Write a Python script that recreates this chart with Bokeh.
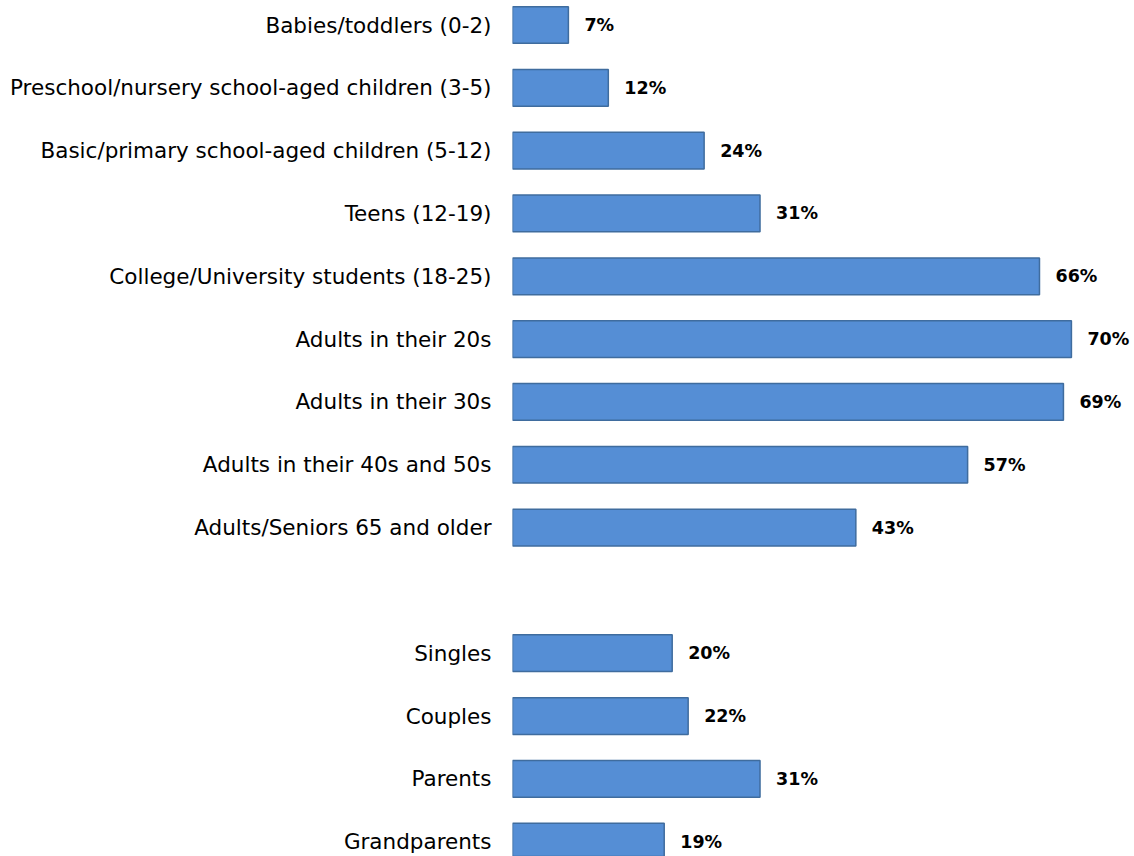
from bokeh.plotting import figure
from bokeh.models import Range1d, FixedTicker, ColumnDataSource
from bokeh.core.properties import value
from bokeh.embed import file_html
from bokeh.resources import INLINE

age_groups = [
    "Babies/toddlers (0-2)",
    "Preschool/nursery school-aged children (3-5)",
    "Basic/primary school-aged children (5-12)",
    "Teens (12-19)",
    "College/University students (18-25)",
    "Adults in their 20s",
    "Adults in their 30s",
    "Adults in their 40s and 50s",
    "Adults/Seniors 65 and older",
]
age_values = [7, 12, 24, 31, 66, 70, 69, 57, 43]

family_groups = ["Singles", "Couples", "Parents", "Grandparents"]
family_values = [20, 22, 31, 19]

labels = age_groups + family_groups
values = age_values + family_values
# one empty slot between the two groups
positions = list(range(len(age_groups))) + [len(age_groups) + 1 + k for k in range(len(family_groups))]
texts = [f"{v}%" for v in values]

src = ColumnDataSource(dict(y=positions, v=values, t=texts))

FONT = "DejaVu Sans"

p = figure(
    width=1134, height=856,
    x_range=Range1d(0, 77.9),
    y_range=Range1d(13.236, -0.39),
    output_backend="svg", toolbar_location=None,
    min_border_left=512, min_border_right=0, min_border_top=0, min_border_bottom=0,
)
p.hbar(y="y", right="v", left=0, height=0.584, source=src,
       fill_color="#558ED5", line_color="#3F6C9E", line_width=1.5)
p.text(x="v", y="y", text="t", source=src, x_offset=16,
       text_baseline="middle", text_align="left",
       text_font=value(FONT), text_font_style="bold",
       text_font_size="17.5px", text_color="#000000")

p.xaxis.visible = False
p.yaxis.ticker = FixedTicker(ticks=positions)
p.yaxis.major_label_overrides = {pos: lab for pos, lab in zip(positions, labels)}
p.yaxis.major_label_text_font = FONT
p.yaxis.major_label_text_font_size = "21.5px"
p.yaxis.major_label_text_color = "#000000"
p.yaxis.major_label_standoff = 21
p.yaxis.major_tick_out = 0
p.yaxis.major_tick_in = 0
p.yaxis.minor_tick_out = 0
p.yaxis.minor_tick_in = 0
p.yaxis.axis_line_color = None
p.xgrid.visible = False
p.ygrid.visible = False
p.outline_line_color = None

open("out.html", "w").write(file_html(p, INLINE))
